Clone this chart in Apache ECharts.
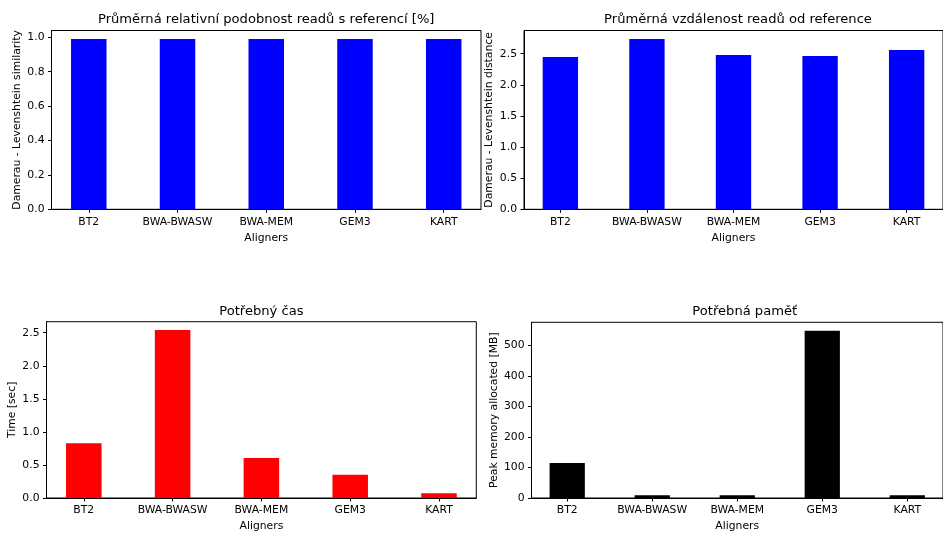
<!DOCTYPE html>
<html>
<head>
<meta charset="utf-8">
<script src="https://cdn.jsdelivr.net/npm/echarts@6/dist/echarts.min.js"></script>
<style>
  html, body { margin: 0; padding: 0; background: #fff; }
  #chart { width: 943px; height: 533px; }
</style>
</head>
<body>
<div id="chart"></div>
<script>
// Aligner benchmark: four bar panels sharing the same categories
const aligners = ['BT2', 'BWA-BWASW', 'BWA-MEM', 'GEM3', 'KART'];

const similarity = [0.99, 0.99, 0.99, 0.99, 0.99];
const distance = [2.447, 2.736, 2.479, 2.463, 2.559];
const timeSec = [0.829, 2.54, 0.606, 0.353, 0.07];
const memoryMB = [115, 9, 9, 548.5, 9];

const similarityTicks = [0, 0.2, 0.4, 0.6, 0.8, 1.0];
const distanceTicks = [0, 0.5, 1.0, 1.5, 2.0, 2.5];
const timeTicks = [0, 0.5, 1.0, 1.5, 2.0, 2.5];
const memoryTicks = [0, 100, 200, 300, 400, 500];

const panelTitles = [
  'Průměrná relativní podobnost readů s referencí [%]',
  'Průměrná vzdálenost readů od reference',
  'Potřebný čas',
  'Potřebná paměť'
];
const yAxisNames = [
  'Damerau - Levenshtein similarity',
  'Damerau - Levenshtein distance',
  'Time [sec]',
  'Peak memory allocated [MB]'
];
const xAxisName = 'Aligners';

const FONT = 'DejaVu Sans';
const TEXT = '#000';
const SMALL = 10.8;
const LARGE = 13.1;

// Panel boxes (pixels) and styling
const panels = [
  { values: similarity, ticks: similarityTicks, decimals: 1, color: '#0000ff',
    box: { left: 51.5, top: 30.5, width: 429.5, height: 178.8 } },
  { values: distance, ticks: distanceTicks, decimals: 1, color: '#0000ff',
    box: { left: 524, top: 30.5, width: 428, height: 178.8 } },
  { values: timeSec, ticks: timeTicks, decimals: 1, color: '#ff0000',
    box: { left: 46.5, top: 321.7, width: 429.8, height: 179 } },
  { values: memoryMB, ticks: memoryTicks, decimals: 0, color: '#000000',
    box: { left: 531.5, top: 322.3, width: 426.5, height: 178.4 } }
];

// Bars are 0.4 wide on a unit-spaced axis with a 5% margin around the bar extent
const BAR = 0.4;
const span = aligners.length - 1 + BAR;
const xMin = -BAR / 2 - 0.05 * span;
const xMax = aligners.length - 1 + BAR / 2 + 0.05 * span;
const catIdx = aligners.map((_, i) => i);

const grids = [], xAxes = [], yAxes = [], series = [], titles = [];

panels.forEach((p, k) => {
  const b = p.box;
  grids.push({
    left: b.left, top: b.top, width: b.width, height: b.height,
    show: true, borderColor: '#000', borderWidth: 1, backgroundColor: 'transparent'
  });
  xAxes.push({
    type: 'value', gridIndex: k, min: xMin, max: xMax,
    name: xAxisName, nameLocation: 'middle', nameGap: 23,
    nameTextStyle: { fontFamily: FONT, fontSize: SMALL, color: TEXT },
    axisLine: { show: true, onZero: false, lineStyle: { color: '#000', width: 1 } },
    axisTick: { show: true, length: 3.5, inside: false, customValues: catIdx,
                lineStyle: { color: '#000', width: 1 } },
    axisLabel: { show: true, margin: 7, customValues: catIdx,
                 fontFamily: FONT, fontSize: SMALL, color: TEXT,
                 formatter: v => aligners[Math.round(v)] },
    splitLine: { show: false }
  });
  const yMax = Math.max.apply(null, p.values) * 1.05;
  yAxes.push({
    type: 'value', gridIndex: k, min: 0, max: yMax,
    name: yAxisNames[k], nameLocation: 'middle', nameGap: 29, nameRotate: 90,
    nameTextStyle: { fontFamily: FONT, fontSize: SMALL, color: TEXT },
    axisLine: { show: true, onZero: false, lineStyle: { color: '#000', width: 1 } },
    axisTick: { show: true, length: 3.5, inside: false, customValues: p.ticks,
                lineStyle: { color: '#000', width: 1 } },
    axisLabel: { show: true, margin: 7, customValues: p.ticks,
                 fontFamily: FONT, fontSize: SMALL, color: TEXT,
                 formatter: v => Number(v).toFixed(p.decimals) },
    splitLine: { show: false }
  });
  series.push({
    type: 'bar', xAxisIndex: k, yAxisIndex: k,
    barWidth: BAR * b.width / (xMax - xMin),
    itemStyle: { color: p.color },
    silent: true, animation: false,
    data: p.values.map((v, i) => [i, v])
  });
  titles.push({
    text: panelTitles[k], padding: 0,
    left: b.left + b.width / 2, top: b.top - 17,
    textAlign: 'center', textVerticalAlign: 'top',
    textStyle: { fontFamily: FONT, fontSize: LARGE, fontWeight: 'normal', color: TEXT }
  });
});

const chart = echarts.init(document.getElementById('chart'), null, { renderer: 'canvas' });
chart.setOption({
  backgroundColor: '#fff',
  animation: false,
  title: titles,
  grid: grids,
  xAxis: xAxes,
  yAxis: yAxes,
  series: series
});
</script>
</body>
</html>
